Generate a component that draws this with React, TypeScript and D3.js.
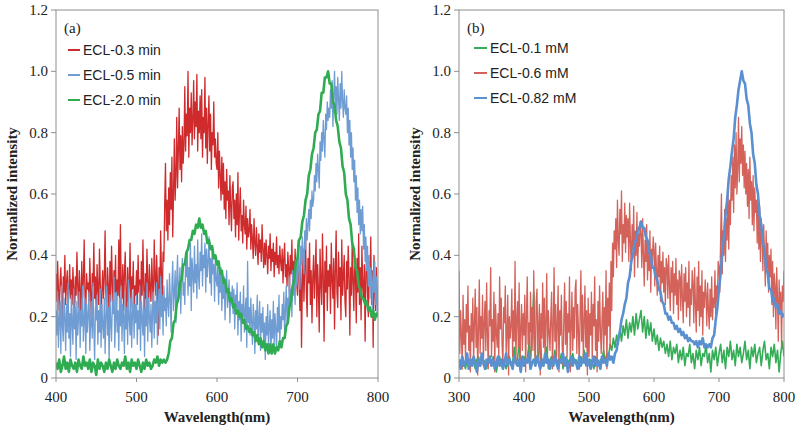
import React from "react";
import * as d3 from "d3";

// ---------- Panel (a): wavelength 400..800 nm ----------
// values in % of max (normalized intensity x 100), evenly spaced over the range
const aRange: [number, number] = [400, 800];
const aRed03 = [
  34, 25, 38, 29, 22, 31, 36, 27, 19, 33, 28, 40, 24, 31, 35, 21, 29, 37, 26, 32,
  24, 36, 29, 18, 33, 27, 41, 30, 23, 35, 28, 20, 38, 26, 32, 45, 27, 22, 34, 29,
  31, 25, 39, 28, 17, 34, 30, 44, 26, 33, 21, 37, 29, 24, 42, 31, 15, 28, 35, 26,
  33, 48, 27, 22, 36, 30, 19, 38, 25, 43, 31, 23, 35, 28, 40, 20, 32, 27, 45, 24,
  50, 30, 26, 37, 22, 34, 41, 28, 19, 36, 25, 31, 44, 23, 33, 29, 38, 20, 30, 27,
  35, 24, 40, 28, 32, 21, 38, 27, 45, 30, 18, 34, 26, 42, 31, 23, 37, 29, 25, 39,
  30, 22, 45, 33, 27, 40, 31, 14, 36, 28, 48, 34, 25, 41, 38, 56, 70, 48, 58, 45,
  62, 50, 67, 55, 72, 46, 60, 78, 58, 66, 85, 62, 74, 88, 68, 79, 64, 82, 70, 76,
  95, 74, 86, 79, 100, 72, 88, 80, 93, 76, 84, 97, 78, 90, 82, 99, 74, 87, 80, 92,
  78, 94, 72, 85, 80, 98, 75, 88, 70, 83, 92, 74, 86, 68, 80, 76, 90, 72, 78, 70,
  68, 80, 62, 74, 66, 58, 72, 60, 70, 55, 64, 52, 68, 58, 61, 50, 66, 56, 48, 62,
  64, 52, 58, 46, 60, 50, 67, 45, 55, 62, 48, 53, 44, 58, 50, 47, 56, 42, 52, 46,
  48, 55, 42, 50, 45, 39, 52, 44, 40, 49, 43, 37, 47, 41, 45, 38, 50, 42, 36, 44,
  37, 45, 40, 34, 43, 39, 47, 35, 42, 38, 44, 33, 41, 37, 46, 36, 40, 34, 43, 38,
  35, 42, 31, 39, 44, 33, 37, 30, 41, 36, 28, 40, 34, 45, 32, 38, 29, 42, 35, 31,
  27, 45, 33, 22, 38, 10, 30, 42, 25, 36, 48, 28, 20, 39, 31, 44, 24, 35, 18, 33,
  40, 26, 34, 45, 20, 37, 29, 15, 42, 31, 24, 47, 33, 12, 38, 28, 43, 22, 35, 30,
  37, 21, 44, 32, 26, 39, 16, 35, 48, 28, 23, 41, 30, 36, 19, 45, 27, 33, 40, 25,
  20, 38, 29, 43, 33, 14, 36, 27, 45, 31, 22, 40, 34, 18, 39, 28, 47, 24, 36, 19,
  43, 30, 25, 37, 12, 34, 41, 28, 20, 38, 32, 46, 24, 35, 10, 40, 29, 22, 36, 27,
  28,
];
const aBlue05 = [
  22, 14, 28, 10, 19, 25, 8, 30, 17, 12, 26, 20, 9, 24, 15, 31, 13, 21, 7, 27,
  18, 11, 29, 16, 23, 6, 25, 14, 20, 28, 10, 22, 17, 30, 12, 19, 26, 8, 24, 15,
  21, 28, 9, 18, 25, 13, 31, 16, 6, 23, 19, 27, 11, 22, 15, 29, 10, 24, 17, 13,
  26, 8, 20, 30, 14, 23, 5, 27, 18, 12, 25, 21, 33, 10, 19, 28, 15, 22, 9, 26,
  17, 30, 12, 24, 20, 8, 28, 16, 23, 11, 32, 19, 14, 26, 10, 21, 29, 13, 24, 18,
  27, 11, 22, 16, 30, 9, 25, 19, 14, 28, 7, 23, 17, 31, 12, 26, 20, 15, 24, 10,
  22, 28, 13, 25, 18, 31, 11, 24, 29, 16, 33, 20, 27, 14, 30, 22, 26, 17, 32, 24,
  20, 34, 26, 15, 30, 38, 22, 28, 35, 18, 32, 40, 25, 29, 36, 21, 33, 39, 27, 31,
  24, 38, 33, 42, 27, 36, 30, 44, 22, 39, 34, 28, 43, 31, 37, 26, 45, 33, 29, 41,
  35, 47, 30, 40, 36, 44, 28, 42, 33, 38, 46, 31, 39, 27, 43, 34, 37, 25, 40, 32,
  30, 37, 24, 34, 28, 36, 22, 31, 26, 33, 19, 29, 35, 23, 27, 32, 18, 28, 25, 30,
  21, 29, 16, 27, 23, 31, 14, 25, 19, 28, 12, 24, 20, 30, 15, 22, 26, 10, 38, 18,
  23, 14, 26, 18, 11, 24, 20, 8, 22, 16, 27, 12, 19, 25, 9, 21, 15, 23, 11, 18,
  6, 20, 14, 24, 10, 17, 22, 8, 19, 13, 25, 11, 21, 16, 9, 23, 15, 27, 12, 20,
  16, 24, 19, 28, 14, 22, 30, 18, 26, 21, 33, 24, 29, 20, 35, 27, 31, 24, 38, 30,
  32, 40, 35, 29, 43, 37, 46, 40, 34, 48, 42, 52, 45, 50, 55, 48, 58, 52, 61, 56,
  58, 66, 61, 70, 64, 73, 68, 62, 77, 71, 80, 74, 84, 78, 72, 86, 81, 90, 84, 88,
  85, 94, 88, 97, 82, 92, 100, 89, 95, 86, 98, 91, 84, 96, 88, 100, 90, 85, 94, 88,
  86, 92, 80, 88, 76, 84, 72, 80, 68, 75, 64, 71, 58, 66, 54, 62, 50, 58, 47, 55,
  48, 56, 42, 50, 38, 46, 35, 43, 30, 40, 26, 36, 32, 22, 35, 28, 38, 24, 33, 20,
  28,
];
const aGreen20 = [
  5, 3, 6, 2, 4, 7, 3, 5, 2, 6,
  4, 3, 5, 2, 6, 4, 3, 7, 4, 5,
  3, 6, 2, 5, 4, 1, 6, 3, 5, 4,
  2, 5, 3, 6, 4, 2, 5, 3, 6, 4,
  3, 5, 4, 7, 3, 5, 2, 6, 4, 5,
  3, 6, 4, 2, 5, 3, 6, 4, 5, 3,
  4, 6, 5, 7, 4, 6, 5, 6, 5, 6,
  8, 12, 13, 18, 19, 24, 26, 31, 32, 37,
  37, 41, 42, 45, 45, 48, 47, 50, 49, 52,
  49, 50, 47, 48, 44, 45, 42, 43, 39, 40,
  37, 38, 34, 35, 31, 32, 28, 29, 25, 26,
  23, 24, 21, 22, 20, 21, 18, 19, 16, 17,
  15, 16, 14, 15, 12, 14, 11, 13, 10, 12,
  9, 11, 8, 11, 8, 11, 8, 10, 9, 12,
  10, 13, 13, 17, 18, 23, 25, 30, 32, 38,
  39, 45, 46, 51, 53, 58, 60, 66, 68, 73,
  75, 80, 81, 86, 87, 93, 93, 98, 98, 100,
  96, 96, 90, 89, 84, 82, 77, 75, 69, 67,
  60, 58, 52, 50, 44, 42, 36, 35, 30, 29,
  26, 26, 24, 25, 22, 23, 20, 22, 19, 21,
  20,
];

// ---------- Panel (b): wavelength 300..800 nm ----------
const bRange: [number, number] = [300, 800];
const bGreen01 = [
  6, 4, 7, 5, 3, 6, 5, 4,
  6, 5, 3, 6, 7, 4, 5, 6,
  5, 3, 6, 5, 4, 7, 5, 2,
  5, 7, 4, 6, 5, 3, 6, 7,
  4, 5, 10, 5, 6, 12, 3, 6,
  7, 5, 6, 11, 5, 16, 28, 6,
  5, 8, 14, 4, 6, 5, 10, 3,
  6, 7, 5, 9, 4, 6, 5, 8,
  3, 6, 7, 5, 6, 4, 8, 5,
  6, 5, 3, 7, 5, 9, 4, 6,
  5, 6, 5, 3, 7, 6, 4, 6,
  6, 9, 5, 8, 7, 11, 9, 13,
  10, 14, 11, 16, 12, 17, 14, 19,
  13, 18, 15, 20, 14, 21, 16, 19,
  22, 15, 20, 13, 19, 14, 18, 12,
  16, 11, 14, 9, 13, 10, 12, 8,
  11, 7, 12, 6, 10, 8, 11, 5,
  9, 6, 10, 4, 8, 7, 11, 5,
  8, 3, 9, 6, 10, 4, 8, 7,
  11, 5, 8, 2, 9, 6, 10, 4,
  8, 11, 5, 9, 3, 10, 7, 12,
  6, 9, 4, 11, 7, 10, 5, 8,
  12, 6, 9, 3, 10, 7, 11, 5,
  8, 10, 4, 9, 12, 6, 8, 3,
  10, 7, 11, 5, 9, 2, 8, 12,
  7,
];
const bRed06 = [
  35, 8, 22, 14, 3, 27, 11, 19, 6, 24, 15, 30, 9, 17, 2, 21,
  12, 26, 5, 18, 29, 10, 23, 1, 16, 32, 8, 20, 13, 27, 4, 18,
  25, 9, 31, 14, 3, 22, 17, 36, 7, 19, 12, 28, 2, 24, 15, 10,
  21, 6, 33, 16, 26, 11, 4, 23, 18, 30, 8, 14, 27, 1, 20, 13,
  17, 29, 7, 22, 12, 38, 5, 19, 25, 10, 31, 3, 16, 24, 9, 21,
  14, 27, 2, 20, 33, 11, 18, 6, 28, 15, 23, 9, 35, 12, 4, 25,
  29, 7, 17, 24, 1, 21, 13, 31, 10, 26, 5, 19, 34, 8, 22, 15,
  9, 20, 28, 3, 16, 36, 12, 24, 6, 18, 30, 2, 22, 14, 27, 10,
  4, 19, 31, 11, 25, 7, 21, 15, 33, 2, 17, 28, 9, 23, 13, 29,
  32, 8, 24, 16, 3, 20, 35, 12, 27, 6, 18, 30, 10, 22, 1, 26,
  7, 21, 14, 28, 5, 24, 17, 33, 9, 19, 2, 25, 12, 30, 16, 8,
  19, 28, 6, 23, 14, 35, 3, 26, 17, 31, 10, 38, 22, 44, 33, 48,
  42, 52, 36, 58, 45, 40, 55, 47, 61, 38, 50, 44, 57, 41, 53, 46,
  52, 38, 57, 44, 35, 50, 42, 56, 33, 48, 40, 54, 36, 47, 43, 51,
  47, 36, 52, 40, 30, 45, 38, 50, 32, 44, 35, 48, 28, 42, 37, 46,
  42, 30, 44, 35, 27, 40, 33, 43, 25, 38, 31, 41, 28, 36, 24, 39,
  37, 26, 40, 30, 22, 36, 28, 38, 21, 34, 27, 39, 24, 32, 19, 35,
  33, 22, 37, 26, 18, 34, 25, 36, 20, 31, 23, 38, 17, 29, 24, 35,
  31, 18, 36, 24, 15, 33, 22, 38, 17, 30, 20, 35, 14, 28, 23, 32,
  27, 17, 31, 22, 16, 29, 20, 33, 19, 26, 23, 35, 21, 30, 25, 38,
  36, 28, 46, 60, 34, 48, 40, 55, 38, 52, 45, 62, 42, 58, 50, 66,
  58, 72, 54, 76, 62, 80, 60, 68, 85, 64, 78, 70, 82, 66, 76, 62,
  74, 60, 70, 56, 68, 52, 72, 58, 64, 50, 66, 48, 62, 54, 58, 44,
  60, 42, 56, 38, 52, 46, 35, 50, 40, 30, 48, 36, 44, 28, 40, 33,
  42, 24, 38, 20, 34, 30, 16, 36, 26, 12, 32, 22, 28, 10, 30, 25,
  35,
];
const bBlue082 = [
  6, 3, 7, 4, 5, 8, 3, 6,
  4, 7, 5, 2, 6, 4, 8, 5,
  3, 6, 5, 7, 4, 6, 3, 5,
  7, 4, 6, 3, 5, 8, 4, 6,
  5, 3, 7, 5, 4, 6, 2, 7,
  4, 6, 5, 8, 3, 5, 6, 4,
  7, 5, 3, 6, 4, 8, 5, 6,
  3, 6, 4, 7, 5, 3, 6, 5,
  8, 4, 6, 2, 5, 7, 4, 6,
  5, 3, 7, 4, 6, 5, 8, 4,
  6, 3, 5, 7, 4, 6, 5, 3,
  7, 5, 6, 4, 8, 6, 7, 5,
  8, 9, 13, 15, 19, 21, 24, 26,
  31, 33, 38, 40, 44, 45, 48, 49,
  51, 49, 49, 46, 45, 41, 40, 36,
  36, 33, 32, 29, 28, 25, 24, 21,
  21, 19, 20, 18, 18, 16, 17, 15,
  16, 14, 15, 13, 14, 12, 13, 12,
  12, 11, 12, 10, 12, 11, 13, 10,
  11, 10, 11, 10, 13, 14, 19, 23,
  29, 34, 41, 46, 53, 58, 65, 69,
  74, 78, 85, 89, 94, 97, 100, 97,
  96, 91, 89, 83, 80, 73, 70, 63,
  60, 53, 50, 44, 42, 36, 34, 29,
  29, 25, 26, 23, 24, 21, 22, 20,
  21,
];

const yTicks = [0, 0.2, 0.4, 0.6, 0.8, 1.0, 1.2];
const yTickLabels = ["0", "0.2", "0.4", "0.6", "0.8", "1.0", "1.2"];
const aXTicks = [400, 500, 600, 700, 800];
const bXTicks = [300, 400, 500, 600, 700, 800];

const aSeries = [
  { name: "ECL-0.3 min", values: aRed03, color: "#cf2a2c", width: 1.3 },
  { name: "ECL-0.5 min", values: aBlue05, color: "#6f9dd3", width: 1.3 },
  { name: "ECL-2.0 min", values: aGreen20, color: "#2fab52", width: 2.6 },
];
const bSeries = [
  { name: "ECL-0.1 mM", values: bGreen01, color: "#34ad56", width: 1.6 },
  { name: "ECL-0.6 mM", values: bRed06, color: "#d3625a", width: 1.3 },
  { name: "ECL-0.82 mM", values: bBlue082, color: "#5a8fd0", width: 2.6 },
];

type Series = { name: string; values: number[]; color: string; width: number };

const serif = "'Liberation Serif', 'Times New Roman', 'DejaVu Serif', serif";
const sans = "'Liberation Sans', Arial, sans-serif";
const axisGray = "#8e8e8e";

function Panel(props: {
  left: number;
  right: number;
  range: [number, number];
  xTicks: number[];
  series: Series[];
  tag: string;
  legendLine: [number, number];
  legendText: number;
  legendY: number[];
}) {
  const { left, right, range, xTicks, series, tag, legendLine, legendText, legendY } = props;
  const top = 10;
  const bottom = 378;
  const x = d3.scaleLinear().domain(range).range([left, right]);
  const y = d3.scaleLinear().domain([0, 1.2]).range([bottom, top]);
  const cx = (left + right) / 2;
  const serifStyle = { fontFamily: serif };
  return (
    <g>
      <defs>
        <clipPath id={"clip" + tag}>
          <rect x={left} y={top} width={right - left} height={bottom - top} />
        </clipPath>
      </defs>
      <g clipPath={`url(#clip${tag})`}>
        {series.map((s) => {
          const n = s.values.length;
          const wl = d3.scaleLinear().domain([0, n - 1]).range(range);
          const line = d3
            .line<number>()
            .x((_, i) => x(wl(i)))
            .y((v) => y(v / 100));
          return (
            <path key={s.name} d={line(s.values) || ""} fill="none" stroke={s.color} strokeWidth={s.width} strokeLinejoin="round" />
          );
        })}
      </g>
      <rect x={left} y={top} width={right - left} height={bottom - top} fill="none" stroke={axisGray} strokeWidth={1} />
      {yTicks.map((t, i) => (
        <g key={"y" + t}>
          <line x1={left - 5} x2={left} y1={y(t)} y2={y(t)} stroke={axisGray} />
          <text x={left - 8} y={y(t) + 5} textAnchor="end" style={serifStyle} fontSize={15} fill="#222">
            {yTickLabels[i]}
          </text>
        </g>
      ))}
      {xTicks.map((t) => (
        <g key={"x" + t}>
          <line x1={x(t)} x2={x(t)} y1={bottom} y2={bottom + 4} stroke={axisGray} />
          <text x={x(t)} y={402} textAnchor="middle" style={serifStyle} fontSize={15} fill="#222">
            {t}
          </text>
        </g>
      ))}
      <text x={cx} y={422} textAnchor="middle" style={serifStyle} fontSize={15} fontWeight="bold" fill="#222">
        Wavelength(nm)
      </text>
      <text
        transform={`translate(${left - 39},${(top + bottom) / 2}) rotate(-90)`}
        textAnchor="middle"
        style={serifStyle}
        fontSize={15}
        fontWeight="bold"
        fill="#222"
      >
        Normalized intensity
      </text>
      <text x={left + 8} y={33} style={serifStyle} fontSize={15} fill="#222">
        {"(" + tag + ")"}
      </text>
      {series.map((s, i) => (
        <g key={"lg" + s.name}>
          <line x1={legendLine[0]} x2={legendLine[1]} y1={legendY[i]} y2={legendY[i]} stroke={s.color} strokeWidth={2} />
          <text x={legendText} y={legendY[i] + 5} style={{ fontFamily: sans }} fontSize={14} fill="#222">
            {s.name}
          </text>
        </g>
      ))}
    </g>
  );
}

export default function App() {
  return (
    <div style={{ position: "absolute", left: 0, top: 0 }}>
      <svg width={800} height={429} style={{ display: "block", background: "#fff" }}>
        <Panel
          left={56}
          right={378}
          range={aRange}
          xTicks={aXTicks}
          series={aSeries}
          tag="a"
          legendLine={[68, 80]}
          legendText={83}
          legendY={[50, 75, 100]}
        />
        <Panel
          left={459}
          right={784}
          range={bRange}
          xTicks={bXTicks}
          series={bSeries}
          tag="b"
          legendLine={[474, 487]}
          legendText={490}
          legendY={[48, 73, 98]}
        />
      </svg>
    </div>
  );
}
